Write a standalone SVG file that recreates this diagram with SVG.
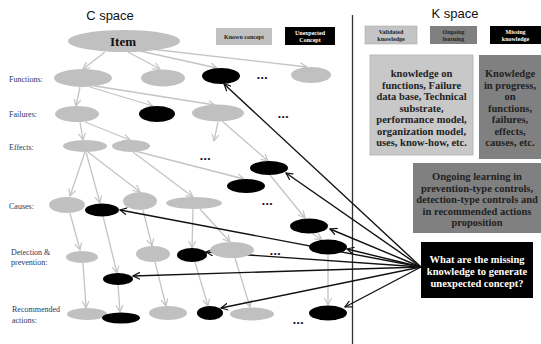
<svg xmlns="http://www.w3.org/2000/svg" width="541" height="344" viewBox="0 0 541 344">
<style>
.g{fill:#c0c0c0}
.b{fill:#000}
.ge{stroke:#c4c4c4;stroke-width:1.3;fill:none;marker-end:url(#ga)}
.be{stroke:#111;stroke-width:1.4;fill:none;marker-end:url(#ba)}
.lbl{font-family:"Liberation Serif",serif;font-size:8px;fill:#2a3560}
.t{font-family:"Liberation Serif",serif;font-weight:bold;fill:#222;text-anchor:middle}
.w{font-family:"Liberation Serif",serif;font-weight:bold;fill:#fff;text-anchor:middle}
.h{font-family:"Liberation Sans",sans-serif;font-size:13px;fill:#111;text-anchor:middle}
.dots{font-family:"Liberation Sans",sans-serif;font-size:8px;fill:#0a0a2a;letter-spacing:1px}
</style>
<defs>
<marker id="ga" markerWidth="8" markerHeight="8" refX="7" refY="4" orient="auto" markerUnits="userSpaceOnUse"><path d="M0,0.5 L7,4 L0,7.5" fill="none" stroke="#c4c4c4" stroke-width="1.2"/></marker>
<marker id="ba" markerWidth="8" markerHeight="8" refX="7" refY="4" orient="auto" markerUnits="userSpaceOnUse"><path d="M0,0.5 L7,4 L0,7.5" fill="none" stroke="#111" stroke-width="1.2"/></marker>
</defs>
<rect width="541" height="344" fill="#fff"/>
<text class="h" x="110" y="20">C space</text>
<text class="h" x="455" y="18">K space</text>
<line x1="352.5" y1="15" x2="352.5" y2="344" stroke="#333" stroke-width="1.3"/>

<g id="legend-known"><rect x="216" y="28" width="56" height="17" fill="#c0c0c0"/><text class="t" x="244" y="39" font-size="6">Known concept</text></g>
<g id="legend-unexpected"><rect x="285" y="27" width="50" height="18" fill="#000"/><text class="w" x="310" y="34.5" font-size="6">Unexpected</text><text class="w" x="310" y="42" font-size="6">Concept</text></g>
<g id="legend-validated"><rect x="365" y="26" width="52" height="18" fill="#c4c4c4" stroke="#aaa" stroke-width="0.6"/><text class="t" x="391" y="33.5" font-size="6">Validated</text><text class="t" x="391" y="41" font-size="6">knowledge</text></g>
<g id="legend-ongoing"><rect x="430" y="26" width="47" height="18" fill="#808080"/><text class="t" x="453.5" y="33.5" font-size="6">Ongoing</text><text class="t" x="453.5" y="41" font-size="6">learning</text></g>
<g id="legend-missing"><rect x="490" y="26" width="51" height="18" fill="#000"/><text class="w" x="515.5" y="33.5" font-size="6">Missing</text><text class="w" x="515.5" y="41" font-size="6">knowledge</text></g>

<g id="box-validated"><rect x="370" y="55" width="103" height="100" fill="#c8c8c8" stroke="#b0b0b0" stroke-width="0.8"/>
<text class="t" font-size="10.5"><tspan x="421.5" y="77">knowledge on</tspan><tspan x="421.5" y="88.5">functions, Failure</tspan><tspan x="421.5" y="100">data base, Technical</tspan><tspan x="421.5" y="111.5">substrate,</tspan><tspan x="421.5" y="123">performance model,</tspan><tspan x="421.5" y="134.5">organization model,</tspan><tspan x="421.5" y="146">uses, know-how, etc.</tspan></text></g>
<g id="box-progress"><rect x="479" y="55" width="62" height="104" fill="#808080"/>
<text class="t" font-size="10.5"><tspan x="510" y="77">Knowledge</tspan><tspan x="510" y="88.5">in progress,</tspan><tspan x="510" y="100">on</tspan><tspan x="510" y="111.5">functions,</tspan><tspan x="510" y="123">failures,</tspan><tspan x="510" y="134.5">effects,</tspan><tspan x="510" y="146">causes, etc.</tspan></text></g>
<g id="box-ongoing"><rect x="413" y="163" width="128" height="70" fill="#808080"/>
<text class="t" font-size="10.5"><tspan x="477" y="180">Ongoing learning in</tspan><tspan x="477" y="191.5">prevention-type controls,</tspan><tspan x="477" y="203">detection-type controls and</tspan><tspan x="477" y="214.5">in recommended actions</tspan><tspan x="477" y="226">proposition</tspan></text></g>
<g id="box-question"><rect x="421" y="242" width="112" height="56" fill="#000"/>
<text class="w" font-size="10.5"><tspan x="477" y="263">What are the missing</tspan><tspan x="477" y="275">knowledge to generate</tspan><tspan x="477" y="287">unexpected concept?</tspan></text></g>

<g id="row-labels">
<text class="lbl" x="9" y="82">Functions:</text>
<text class="lbl" x="9" y="117">Failures:</text>
<text class="lbl" x="9" y="150">Effects:</text>
<text class="lbl" x="9" y="209">Causes:</text>
<text class="lbl" x="11" y="255">Detection &amp;</text>
<text class="lbl" x="11" y="265">prevention:</text>
<text class="lbl" x="12" y="312">Recommended</text>
<text class="lbl" x="12" y="323">actions:</text>
</g>

<g id="connectors">
<path class="ge" d="M105,52 L83,69"/>
<path class="ge" d="M128,52 L160,69"/>
<path class="ge" d="M140,51 L217,68"/>
<path class="ge" d="M150,49 L307,67"/>
<path class="ge" d="M80,87 L76,106"/>
<path class="ge" d="M90,87 L153,106"/>
<path class="ge" d="M95,86 L215,105"/>
<path class="ge" d="M80,122 L83,140"/>
<path class="ge" d="M85,122 L130,140"/>
<path class="ge" d="M218,122 L214,141"/>
<path class="ge" d="M222,121 L268,161"/>
<path class="ge" d="M85,152 L70,196"/>
<path class="ge" d="M86,152 L100,203"/>
<path class="ge" d="M88,152 L140,192"/>
<path class="ge" d="M133,152 L193,197"/>
<path class="ge" d="M135,151 L244,179"/>
<path class="ge" d="M270,175 L305,218"/>
<path class="ge" d="M312,233 L322,240"/>
<path class="ge" d="M70,213 L80,250"/>
<path class="ge" d="M103,216 L117,273"/>
<path class="ge" d="M143,210 L152,246"/>
<path class="ge" d="M193,209 L192,248"/>
<path class="ge" d="M200,209 L230,242"/>
<path class="ge" d="M83,263 L86,308"/>
<path class="ge" d="M118,285 L120,312"/>
<path class="ge" d="M155,262 L166,306"/>
<path class="ge" d="M195,262 L208,306"/>
<path class="ge" d="M235,258 L250,307"/>
<path class="ge" d="M328,255 L328,305"/>

<path class="be" d="M421,267 L224,84"/>
<path class="be" d="M421,267 L286,173"/>
<path class="be" d="M421,267 L330,229"/>
<path class="be" d="M421,267 L347,249"/>
<path class="be" d="M421,267 L206,252"/>
<path class="be" d="M421,267 L120,210"/>
<path class="be" d="M421,267 L133,276"/>
<path class="be" d="M421,267 L221,308"/>
<path class="be" d="M421,267 L345,307"/>
</g>

<g id="item"><ellipse class="g" cx="124" cy="41" rx="56" ry="11"/><text x="123" y="45.5" font-family="Liberation Serif,serif" font-weight="bold" font-size="13" text-anchor="middle" fill="#111">Item</text></g>
<g id="f1"><ellipse class="g" cx="83" cy="78" rx="29" ry="9"/></g>
<g id="f2"><ellipse class="g" cx="163" cy="78" rx="22" ry="8.5"/></g>
<g id="f3"><ellipse class="b" cx="221" cy="76" rx="19" ry="8"/></g>
<g id="f4"><ellipse class="g" cx="311" cy="75" rx="20" ry="8"/></g>
<g id="fa1"><ellipse class="g" cx="77" cy="114" rx="22" ry="8"/></g>
<g id="fa2"><ellipse class="b" cx="157" cy="114" rx="18" ry="8"/></g>
<g id="fa3"><ellipse class="g" cx="218" cy="113" rx="26" ry="8.5"/></g>
<g id="e1"><ellipse class="g" cx="85" cy="146" rx="22" ry="6"/></g>
<g id="e2"><ellipse class="g" cx="131" cy="146" rx="19" ry="6"/></g>
<g id="ua"><ellipse class="b" cx="269" cy="168" rx="19" ry="7"/></g>
<g id="ub"><ellipse class="b" cx="246" cy="186" rx="19" ry="7"/></g>
<g id="c1"><ellipse class="g" cx="67" cy="205" rx="18" ry="8"/></g>
<g id="c2"><ellipse class="b" cx="102" cy="210" rx="17" ry="6.5"/></g>
<g id="c3"><ellipse class="g" cx="140" cy="201" rx="17" ry="9"/></g>
<g id="c4"><ellipse class="g" cx="194" cy="203" rx="28" ry="6"/></g>
<g id="uc"><ellipse class="b" cx="309" cy="226" rx="19" ry="7.5"/></g>
<g id="d1"><ellipse class="g" cx="82" cy="257" rx="16" ry="6"/></g>
<g id="d2"><ellipse class="g" cx="153" cy="254" rx="17" ry="8"/></g>
<g id="d3"><ellipse class="b" cx="192" cy="255" rx="15" ry="7"/></g>
<g id="d4"><ellipse class="g" cx="232" cy="250" rx="22" ry="8"/></g>
<g id="ud"><ellipse class="b" cx="328" cy="247" rx="19" ry="7.5"/></g>
<g id="um"><ellipse class="b" cx="118" cy="279" rx="15" ry="6"/></g>
<g id="r1"><ellipse class="g" cx="87" cy="314" rx="20" ry="6"/></g>
<g id="r2"><ellipse class="b" cx="121" cy="318" rx="19" ry="5.5"/></g>
<g id="r3"><ellipse class="g" cx="168" cy="313" rx="19" ry="7"/></g>
<g id="r4"><ellipse class="b" cx="210" cy="313" rx="13" ry="7"/></g>
<g id="r5"><ellipse class="g" cx="252" cy="314" rx="22" ry="6.5"/></g>
<g id="ue"><ellipse class="b" cx="328" cy="313" rx="19" ry="7.5"/></g>

<g id="ellipsis">
<text class="dots" x="257" y="80">•••</text>
<text class="dots" x="278" y="119">•••</text>
<text class="dots" x="200" y="161">•••</text>
<text class="dots" x="262" y="206">•••</text>
<text class="dots" x="270" y="256">•••</text>
<text class="dots" x="293" y="325">•••</text>
</g>
</svg>
